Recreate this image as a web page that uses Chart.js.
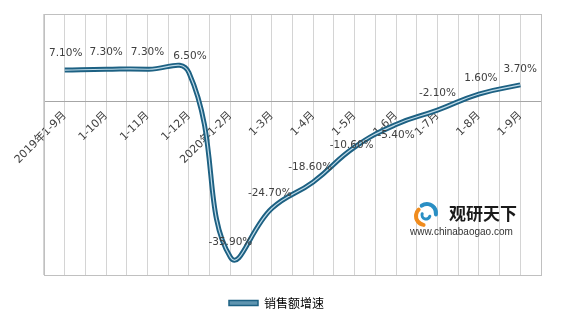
<!DOCTYPE html>
<html><head><meta charset="utf-8">
<script src="https://cdn.jsdelivr.net/npm/chart.js@4/dist/chart.umd.min.js"></script>
<style>html,body{margin:0;padding:0;background:#fff;}#wrap{width:564px;height:319px;}</style>
</head><body><div id="wrap"><canvas id="c"></canvas></div>
<script>
const categories = ['2019年1-9月','1-10月','1-11月','1-12月','2020年1-2月','1-3月','1-4月','1-5月','1-6月','1-7月','1-8月','1-9月'];
const salesGrowth = [7.1, 7.3, 7.3, 6.5, -35.9, -24.7, -18.6, -10.6, -5.4, -2.1, 1.6, 3.7];
const seriesName = '销售额增速';
const yMin = -40, yMax = 20;

const frameAndLabels = {
  id: 'frameAndLabels',
  beforeDraw(chart, args, opts) {
    const lg = chart.legend;
    if (lg) { lg.left += opts.legendShift; lg.right += opts.legendShift; }
  },
  beforeDatasetsDraw(chart) {
    const {ctx, chartArea: a} = chart;
    ctx.save();
    ctx.strokeStyle = '#c0c0c0';
    ctx.lineWidth = 1;
    ctx.strokeRect(Math.round(a.left) + 0.5, Math.round(a.top) + 0.5, Math.round(a.right - a.left), Math.round(a.bottom - a.top));
    ctx.restore();
  },
  afterDatasetsDraw(chart, args, opts) {
    const {ctx} = chart;
    const meta = chart.getDatasetMeta(0);
    ctx.save();
    ctx.font = '10.5px "DejaVu Sans", sans-serif';
    ctx.fillStyle = '#404040';
    ctx.textAlign = 'center';
    ctx.textBaseline = 'middle';
    meta.data.forEach((pt, i) => {
      ctx.fillText(salesGrowth[i].toFixed(2) + '%', pt.x + (opts.dx[i] || 0), pt.y + opts.dy[i]);
    });
    // watermark
    const lx = 425, ly = 214;
    ctx.lineCap = 'round';
    ctx.lineWidth = 4;
    ctx.strokeStyle = '#f08c1e';
    ctx.beginPath(); ctx.arc(lx, ly + 2, 9, Math.PI * 0.55, Math.PI * 1.25); ctx.stroke();
    ctx.strokeStyle = '#2a8fc4';
    ctx.beginPath(); ctx.arc(lx + 2, ly - 1, 9, Math.PI * 1.3, Math.PI * 2.05); ctx.stroke();
    ctx.lineWidth = 3;
    ctx.beginPath(); ctx.arc(lx + 1, ly + 1, 4, Math.PI * 0.1, Math.PI * 1.1); ctx.stroke();
    ctx.fillStyle = '#1a1a1a';
    ctx.textAlign = 'left';
    ctx.font = 'bold 17px "Noto Sans CJK SC", sans-serif';
    ctx.fillText('观研天下', 449, 214);
    ctx.font = '10px "Liberation Sans", Arial, sans-serif';
    ctx.fillStyle = '#333';
    ctx.fillText('www.chinabaogao.com', 410, 232);
    ctx.restore();
  }
};

new Chart(document.getElementById('c'), {
  type: 'line',
  data: {
    labels: categories,
    datasets: [
      { label: seriesName, data: salesGrowth, borderColor: '#1d6183', backgroundColor: '#1d6183',
        borderWidth: 5, pointRadius: 0, tension: 0.45, fill: false, order: 1 },
      { label: 'hl', data: salesGrowth, borderColor: 'rgba(200,226,238,0.95)',
        borderWidth: 1.2, pointRadius: 0, tension: 0.45, fill: false, order: 0 }
    ]
  },
  options: {
    responsive: true, maintainAspectRatio: false, animation: false,
    layout: { padding: { left: 44, right: 23, top: 14, bottom: 0 } },
    scales: {
      x: {
        type: 'category', offset: true, position: { y: 0 },
        grid: { offset: false, color: '#d4d4d4', drawTicks: false },
        border: { display: true, color: '#a6a6a6' },
        ticks: { minRotation: 45, maxRotation: 45, autoSkip: false, padding: 8, color: '#404040',
                 font: { size: 11, family: '"DejaVu Sans", "Noto Sans CJK SC", sans-serif' } }
      },
      xb: {
        type: 'category', offset: true, position: { y: 0 }, labels: categories,
        grid: { offset: true, color: '#d4d4d4', drawTicks: false },
        border: { display: false },
        ticks: { display: false }
      },
      y: { min: yMin, max: yMax, display: false }
    },
    plugins: {
      legend: {
        position: 'bottom',
        labels: {
          boxWidth: 29, boxHeight: 5, color: '#222', padding: 22,
          font: { size: 12, family: '"Noto Sans CJK SC", sans-serif' },
          generateLabels: () => [{ text: seriesName, fillStyle: '#5f95b0', strokeStyle: '#1d6183', lineWidth: 1.5, datasetIndex: 0 }]
        }
      },
      tooltip: { enabled: false },
      frameAndLabels: {
        legendShift: -16,
        dy: [-17, -17, -17, -16, -15, -15, -15, -2, 11, -17, -16, -16],
        dx: [1, 0, 0, 1, 0, -2, -3, -3, 0, 0, 2, 0]
      }
    }
  },
  plugins: [frameAndLabels]
});
</script></body></html>
